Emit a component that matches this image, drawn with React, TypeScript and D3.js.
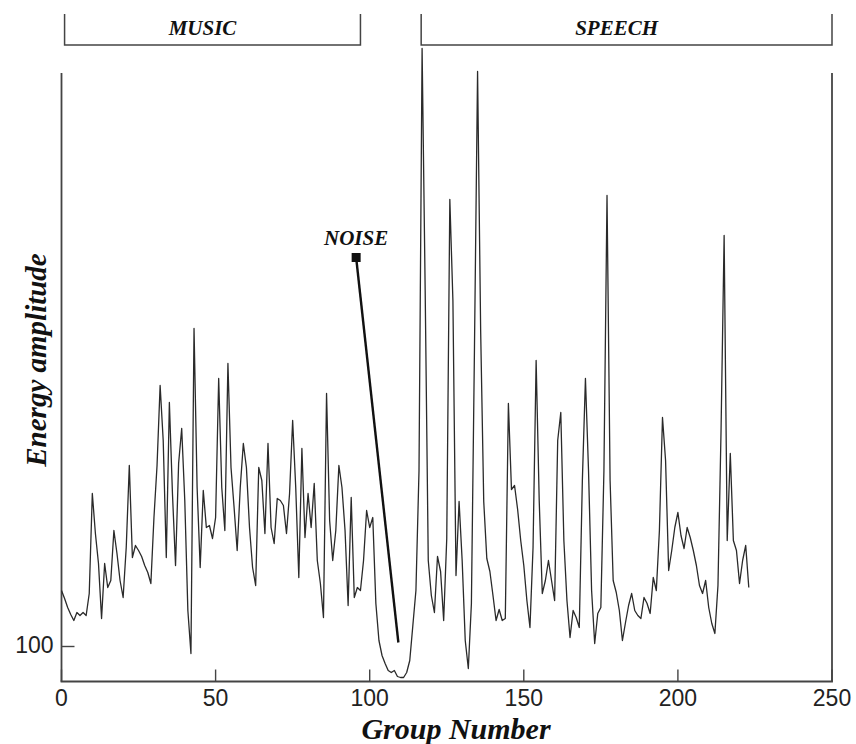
import React from "react";
import * as d3 from "d3";

// Energy per group number (group 0 onward), split by segment
const musicEnergy = [
  156, 148, 139, 132, 126, 134, 131, 134, 131, 153,
  253, 213, 183, 128, 183, 159, 166, 216, 193, 166,
  149, 199, 281, 189, 201, 196, 190, 181, 174, 163,
  229, 281, 361, 306, 189, 344, 253, 181, 283, 318,
  246, 136, 93, 418, 259, 179, 256, 219, 221, 208,
  229, 368, 259, 216, 383, 279, 239, 196, 259, 303,
  279, 219, 179, 161, 279, 266, 213, 303, 219, 203,
  248, 246, 241, 213, 253, 326, 259, 169, 298, 209,
  253, 219, 263, 186, 163, 129, 353, 226, 186, 216,
  281, 259, 216, 141, 249, 149, 159, 156, 186, 236,
];
const noiseEnergy = [
  219, 229, 143, 106, 91, 83, 76, 74, 76, 70,
  69, 69, 74, 86, 121, 156, 276,
];
const speechEnergy = [
  698, 456, 186, 151, 134, 190, 175, 126, 208, 547,
  446, 171, 245, 186, 106, 78, 143, 400, 675, 416,
  245, 188, 175, 151, 126, 137, 126, 128, 343, 257,
  261, 237, 206, 181, 146, 119, 199, 386, 246, 153,
  166, 186, 166, 146, 306, 334, 206, 146, 109, 136,
  129, 119, 266, 368, 276, 156, 103, 133, 139, 276,
  551, 266, 166, 154, 136, 106, 124, 141, 153, 136,
  131, 128, 149, 143, 133, 169, 156, 216, 329, 286,
  176, 196, 219, 234, 211, 198, 219, 209, 196, 181,
  161, 153, 166, 139, 123, 113, 161, 316, 511, 206,
  293, 206, 196, 163, 186, 201, 159,
];

const xTicks = [0, 50, 100, 150, 200, 250];
const yTicks = [100];
const segmentLabels = ["MUSIC", "SPEECH"];
const segmentRanges: [number, number][] = [
  [1, 97],
  [116.7, 250],
];
const noiseLabel = "NOISE";
const noiseFrom: [number, number] = [95.6, 489];
const noiseTo: [number, number] = [109.3, 104];

export default function App() {
  const W = 856;
  const H = 744;
  const energy = [...musicEnergy, ...noiseEnergy, ...speechEnergy];
  const data = energy.map((v, i) => ({ g: i, v }));

  const x = d3.scaleLinear().domain([0, 250]).range([61.5, 832]);
  const y = d3.scaleLinear().domain([65, 675]).range([681.5, 71.5]);
  const line = d3
    .line<{ g: number; v: number }>()
    .x((d) => x(d.g))
    .y((d) => y(d.v));

  const serifBI = {
    fontFamily: "'Liberation Serif', 'DejaVu Serif', serif",
    fontWeight: 700,
    fontStyle: "italic" as const,
  };
  const axisColor = "#444";
  const top = 73;
  const bottom = y(65);

  return (
    <svg
      width={W}
      height={H}
      style={{ position: "absolute", left: 0, top: 0, background: "#fff" }}
    >
      {/* frame */}
      <line x1={x(0)} x2={x(0)} y1={top} y2={bottom} stroke={axisColor} strokeWidth={1.8} />
      <line x1={x(250)} x2={x(250)} y1={top} y2={bottom} stroke={axisColor} strokeWidth={1.8} />
      <line x1={x(0) - 0.9} x2={x(250) + 0.9} y1={bottom} y2={bottom} stroke={axisColor} strokeWidth={1.8} />

      {/* x ticks */}
      {xTicks.map((t) => (
        <g key={t}>
          <line x1={x(t)} x2={x(t)} y1={bottom} y2={bottom - 12} stroke={axisColor} strokeWidth={1.4} />
          <text
            x={x(t)}
            y={706}
            textAnchor="middle"
            fontFamily="'Liberation Sans', Arial, sans-serif"
            fontSize={23}
            fill="#222"
          >
            {t}
          </text>
        </g>
      ))}

      {/* y ticks */}
      {yTicks.map((t) => (
        <g key={t}>
          <line x1={x(0)} x2={x(0) + 13} y1={y(t)} y2={y(t)} stroke={axisColor} strokeWidth={1.4} />
          <text
            x={x(0) - 8}
            y={y(t) + 6}
            textAnchor="end"
            fontFamily="'Liberation Sans', Arial, sans-serif"
            fontSize={23}
            fill="#222"
          >
            {t}
          </text>
        </g>
      ))}

      {/* data line */}
      <path d={line(data) ?? ""} fill="none" stroke="#2a2a2a" strokeWidth={1.3} strokeLinejoin="round" />

      {/* segment brackets */}
      {segmentLabels.map((lab, i) => {
        const [a, b] = segmentRanges[i];
        const x1 = x(a);
        const x2 = x(b);
        return (
          <g key={lab}>
            <path
              d={`M${x1},14 L${x1},45 L${x2},45 L${x2},14`}
              fill="none"
              stroke={axisColor}
              strokeWidth={1.5}
            />
            <text x={(x1 + x2) / 2 - 10} y={35} textAnchor="middle" fontSize={21} fill="#111" {...serifBI}>
              {lab}
            </text>
          </g>
        );
      })}

      {/* noise annotation */}
      <line
        x1={x(noiseFrom[0])}
        y1={y(noiseFrom[1])}
        x2={x(noiseTo[0])}
        y2={y(noiseTo[1])}
        stroke="#111"
        strokeWidth={2.4}
      />
      <rect x={x(noiseFrom[0]) - 4.5} y={y(noiseFrom[1]) - 4.5} width={9} height={9} fill="#111" />
      <text x={x(noiseFrom[0])} y={245} textAnchor="middle" fontSize={21} fill="#111" {...serifBI}>
        {noiseLabel}
      </text>

      {/* axis titles */}
      <text x={456} y={739} textAnchor="middle" fontSize={30} fill="#111" {...serifBI}>
        Group Number
      </text>
      <text
        transform="translate(46,360) rotate(-90)"
        textAnchor="middle"
        fontSize={29}
        fill="#111"
        {...serifBI}
      >
        Energy amplitude
      </text>
    </svg>
  );
}
